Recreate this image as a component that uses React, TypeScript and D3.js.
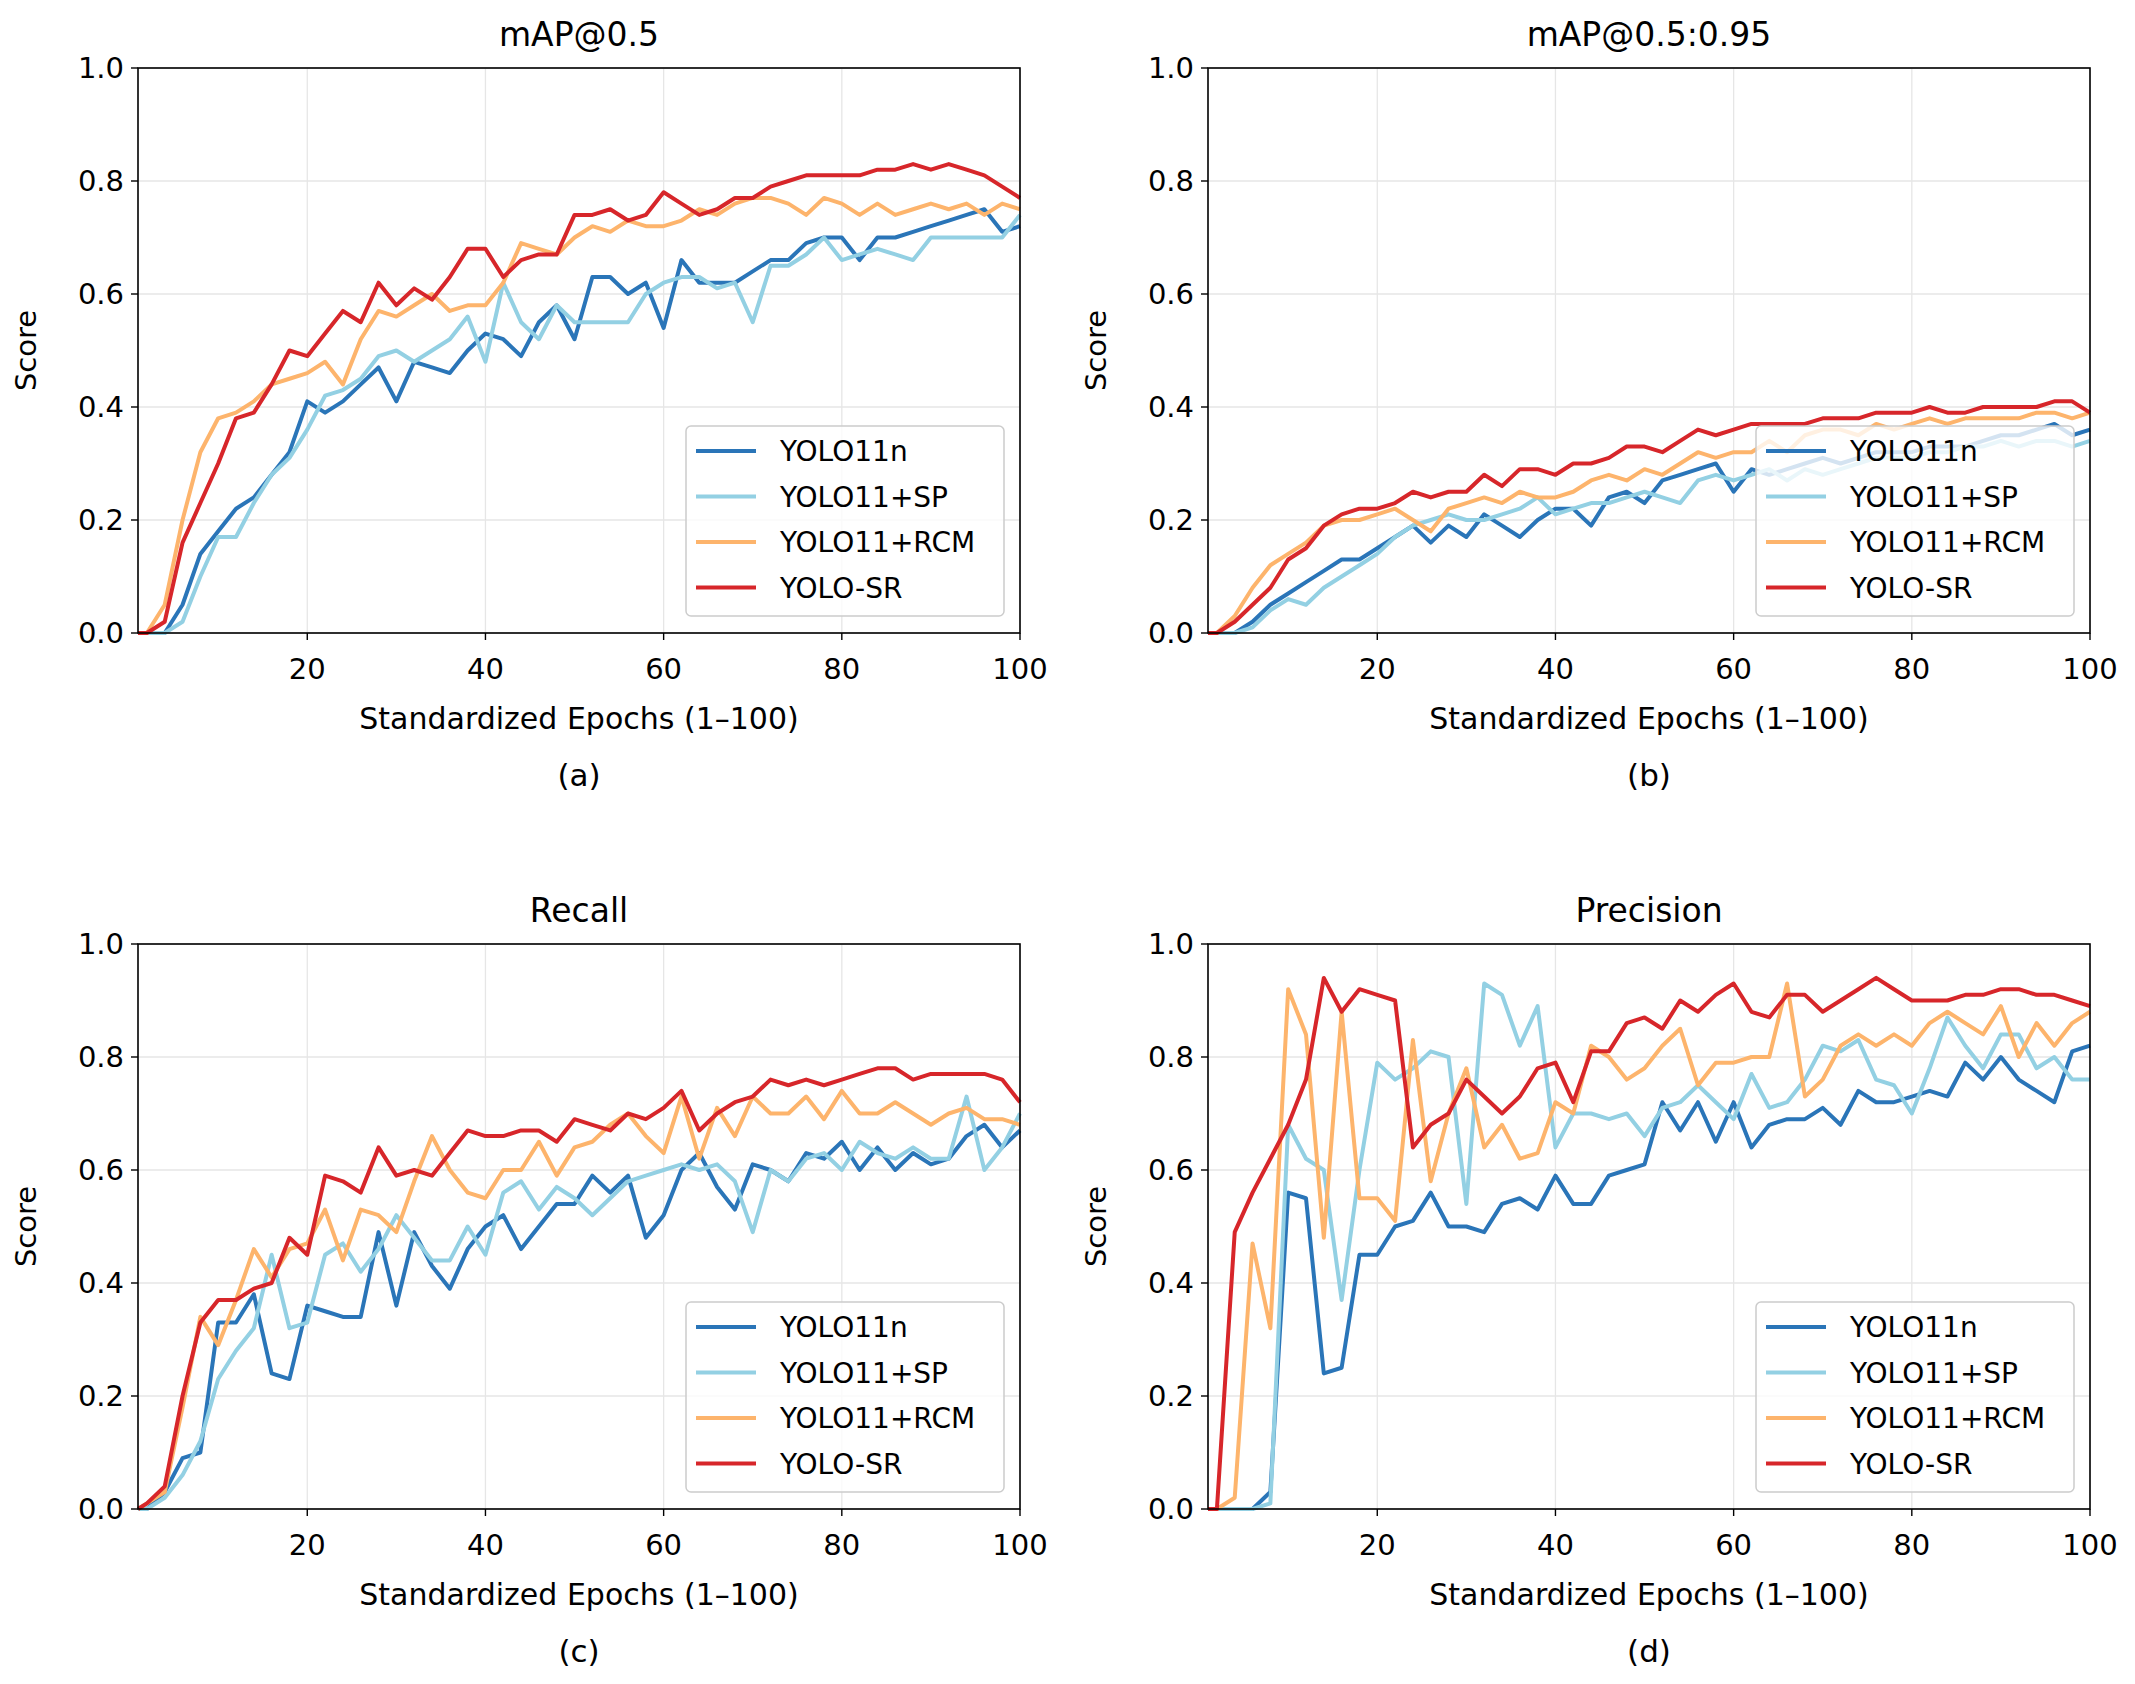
import React from "react";
import * as d3 from "d3";

const epochs = [1, ...d3.range(2, 101, 2)];
const seriesNames = ["YOLO11n", "YOLO11+SP", "YOLO11+RCM", "YOLO-SR"];
const colors = ["#2a75b8", "#93d0e3", "#fdb46c", "#d7262a"];
const yTicks = [0, 0.2, 0.4, 0.6, 0.8, 1.0];
const xTicks = [20, 40, 60, 80, 100];

const mapA_n = [0,0,0,0.05,0.14,0.18,0.22,0.24,0.28,0.32,0.41,0.39,0.41,0.44,0.47,0.41,0.48,0.47,0.46,0.5,0.53,0.52,0.49,0.55,0.58,0.52,0.63,0.63,0.6,0.62,0.54,0.66,0.62,0.62,0.62,0.64,0.66,0.66,0.69,0.7,0.7,0.66,0.7,0.7,0.71,0.72,0.73,0.74,0.75,0.71,0.72];
const mapA_sp = [0,0,0,0.02,0.1,0.17,0.17,0.23,0.28,0.31,0.36,0.42,0.43,0.45,0.49,0.5,0.48,0.5,0.52,0.56,0.48,0.62,0.55,0.52,0.58,0.55,0.55,0.55,0.55,0.6,0.62,0.63,0.63,0.61,0.62,0.55,0.65,0.65,0.67,0.7,0.66,0.67,0.68,0.67,0.66,0.7,0.7,0.7,0.7,0.7,0.74];
const mapA_rcm = [0,0,0.05,0.2,0.32,0.38,0.39,0.41,0.44,0.45,0.46,0.48,0.44,0.52,0.57,0.56,0.58,0.6,0.57,0.58,0.58,0.62,0.69,0.68,0.67,0.7,0.72,0.71,0.73,0.72,0.72,0.73,0.75,0.74,0.76,0.77,0.77,0.76,0.74,0.77,0.76,0.74,0.76,0.74,0.75,0.76,0.75,0.76,0.74,0.76,0.75];
const mapA_sr = [0,0,0.02,0.16,0.23,0.3,0.38,0.39,0.44,0.5,0.49,0.53,0.57,0.55,0.62,0.58,0.61,0.59,0.63,0.68,0.68,0.63,0.66,0.67,0.67,0.74,0.74,0.75,0.73,0.74,0.78,0.76,0.74,0.75,0.77,0.77,0.79,0.8,0.81,0.81,0.81,0.81,0.82,0.82,0.83,0.82,0.83,0.82,0.81,0.79,0.77];

const mapB_n = [0,0,0,0.02,0.05,0.07,0.09,0.11,0.13,0.13,0.15,0.17,0.19,0.16,0.19,0.17,0.21,0.19,0.17,0.2,0.22,0.22,0.19,0.24,0.25,0.23,0.27,0.28,0.29,0.3,0.25,0.29,0.28,0.29,0.3,0.31,0.3,0.31,0.32,0.32,0.32,0.33,0.33,0.33,0.34,0.35,0.35,0.36,0.37,0.35,0.36];
const mapB_sp = [0,0,0,0.01,0.04,0.06,0.05,0.08,0.1,0.12,0.14,0.17,0.19,0.2,0.21,0.2,0.2,0.21,0.22,0.24,0.21,0.22,0.23,0.23,0.24,0.25,0.24,0.23,0.27,0.28,0.27,0.28,0.29,0.27,0.29,0.28,0.29,0.3,0.31,0.31,0.31,0.32,0.32,0.33,0.33,0.34,0.33,0.34,0.34,0.33,0.34];
const mapB_rcm = [0,0,0.03,0.08,0.12,0.14,0.16,0.19,0.2,0.2,0.21,0.22,0.2,0.18,0.22,0.23,0.24,0.23,0.25,0.24,0.24,0.25,0.27,0.28,0.27,0.29,0.28,0.3,0.32,0.31,0.32,0.32,0.34,0.32,0.35,0.36,0.36,0.35,0.37,0.36,0.37,0.38,0.37,0.38,0.38,0.38,0.38,0.39,0.39,0.38,0.39];
const mapB_sr = [0,0,0.02,0.05,0.08,0.13,0.15,0.19,0.21,0.22,0.22,0.23,0.25,0.24,0.25,0.25,0.28,0.26,0.29,0.29,0.28,0.3,0.3,0.31,0.33,0.33,0.32,0.34,0.36,0.35,0.36,0.37,0.37,0.37,0.37,0.38,0.38,0.38,0.39,0.39,0.39,0.4,0.39,0.39,0.4,0.4,0.4,0.4,0.41,0.41,0.39];

const rec_n = [0,0,0.03,0.09,0.1,0.33,0.33,0.38,0.24,0.23,0.36,0.35,0.34,0.34,0.49,0.36,0.49,0.43,0.39,0.46,0.5,0.52,0.46,0.5,0.54,0.54,0.59,0.56,0.59,0.48,0.52,0.6,0.63,0.57,0.53,0.61,0.6,0.58,0.63,0.62,0.65,0.6,0.64,0.6,0.63,0.61,0.62,0.66,0.68,0.64,0.67];
const rec_sp = [0,0,0.02,0.06,0.12,0.23,0.28,0.32,0.45,0.32,0.33,0.45,0.47,0.42,0.46,0.52,0.48,0.44,0.44,0.5,0.45,0.56,0.58,0.53,0.57,0.55,0.52,0.55,0.58,0.59,0.6,0.61,0.6,0.61,0.58,0.49,0.6,0.58,0.62,0.63,0.6,0.65,0.63,0.62,0.64,0.62,0.62,0.73,0.6,0.64,0.7];
const rec_rcm = [0,0.01,0.03,0.18,0.34,0.29,0.37,0.46,0.41,0.46,0.47,0.53,0.44,0.53,0.52,0.49,0.58,0.66,0.6,0.56,0.55,0.6,0.6,0.65,0.59,0.64,0.65,0.68,0.7,0.66,0.63,0.73,0.62,0.71,0.66,0.73,0.7,0.7,0.73,0.69,0.74,0.7,0.7,0.72,0.7,0.68,0.7,0.71,0.69,0.69,0.68];
const rec_sr = [0,0.01,0.04,0.2,0.33,0.37,0.37,0.39,0.4,0.48,0.45,0.59,0.58,0.56,0.64,0.59,0.6,0.59,0.63,0.67,0.66,0.66,0.67,0.67,0.65,0.69,0.68,0.67,0.7,0.69,0.71,0.74,0.67,0.7,0.72,0.73,0.76,0.75,0.76,0.75,0.76,0.77,0.78,0.78,0.76,0.77,0.77,0.77,0.77,0.76,0.72];

const prec_n = [0,0,0,0,0.03,0.56,0.55,0.24,0.25,0.45,0.45,0.5,0.51,0.56,0.5,0.5,0.49,0.54,0.55,0.53,0.59,0.54,0.54,0.59,0.6,0.61,0.72,0.67,0.72,0.65,0.72,0.64,0.68,0.69,0.69,0.71,0.68,0.74,0.72,0.72,0.73,0.74,0.73,0.79,0.76,0.8,0.76,0.74,0.72,0.81,0.82];
const prec_sp = [0,0,0,0,0.01,0.68,0.62,0.6,0.37,0.6,0.79,0.76,0.78,0.81,0.8,0.54,0.93,0.91,0.82,0.89,0.64,0.7,0.7,0.69,0.7,0.66,0.71,0.72,0.75,0.72,0.69,0.77,0.71,0.72,0.76,0.82,0.81,0.83,0.76,0.75,0.7,0.78,0.87,0.82,0.78,0.84,0.84,0.78,0.8,0.76,0.76];
const prec_rcm = [0,0,0.02,0.47,0.32,0.92,0.84,0.48,0.88,0.55,0.55,0.51,0.83,0.58,0.7,0.78,0.64,0.68,0.62,0.63,0.72,0.7,0.82,0.8,0.76,0.78,0.82,0.85,0.75,0.79,0.79,0.8,0.8,0.93,0.73,0.76,0.82,0.84,0.82,0.84,0.82,0.86,0.88,0.86,0.84,0.89,0.8,0.86,0.82,0.86,0.88];
const prec_sr = [0,0,0.49,0.56,0.62,0.68,0.76,0.94,0.88,0.92,0.91,0.9,0.64,0.68,0.7,0.76,0.73,0.7,0.73,0.78,0.79,0.72,0.81,0.81,0.86,0.87,0.85,0.9,0.88,0.91,0.93,0.88,0.87,0.91,0.91,0.88,0.9,0.92,0.94,0.92,0.9,0.9,0.9,0.91,0.91,0.92,0.92,0.91,0.91,0.9,0.89];

const panels = [
  { title: "mAP@0.5", tag: "(a)", data: [mapA_n, mapA_sp, mapA_rcm, mapA_sr], left: 138, top: 68 },
  { title: "mAP@0.5:0.95", tag: "(b)", data: [mapB_n, mapB_sp, mapB_rcm, mapB_sr], left: 1208, top: 68 },
  { title: "Recall", tag: "(c)", data: [rec_n, rec_sp, rec_rcm, rec_sr], left: 138, top: 944 },
  { title: "Precision", tag: "(d)", data: [prec_n, prec_sp, prec_rcm, prec_sr], left: 1208, top: 944 },
];

const W = 882, H = 565;
const FONT = "DejaVu Sans";

function Panel({ p }: { p: typeof panels[0] }) {
  const x = d3.scaleLinear().domain([1, 100]).range([0, W]);
  const y = d3.scaleLinear().domain([0, 1]).range([H, 0]);
  const line = d3.line<[number, number]>().x(d => x(d[0])).y(d => y(d[1]));
  const lx = 548, ly = 358, lw = 318, lh = 190;
  return (
    <g transform={`translate(${p.left},${p.top})`} fontFamily={FONT}>
      <defs>
        <clipPath id={"c" + p.tag}><rect x={0} y={0} width={W} height={H} /></clipPath>
      </defs>
      {xTicks.map(t => <line key={"gx" + t} x1={x(t)} x2={x(t)} y1={0} y2={H} stroke="#e6e6e6" strokeWidth={1.3} />)}
      {yTicks.map(t => <line key={"gy" + t} x1={0} x2={W} y1={y(t)} y2={y(t)} stroke="#e6e6e6" strokeWidth={1.3} />)}
      <g clipPath={`url(#c${p.tag})`}>
        {p.data.map((vals, i) => (
          <path key={i} d={line(vals.map((v, j) => [epochs[j], v] as [number, number])) || ""} fill="none" stroke={colors[i]} strokeWidth={4} strokeLinejoin="round" />
        ))}
      </g>
      <rect x={0} y={0} width={W} height={H} fill="none" stroke="#000" strokeWidth={1.6} />
      {xTicks.map(t => (
        <g key={"tx" + t}>
          <line x1={x(t)} x2={x(t)} y1={H} y2={H + 7} stroke="#000" strokeWidth={1.4} />
          <text x={x(t)} y={H + 46} textAnchor="middle" fontSize={29}>{t}</text>
        </g>
      ))}
      {yTicks.map(t => (
        <g key={"ty" + t}>
          <line x1={-7} x2={0} y1={y(t)} y2={y(t)} stroke="#000" strokeWidth={1.4} />
          <text x={-14} y={y(t) + 10} textAnchor="end" fontSize={29}>{t.toFixed(1)}</text>
        </g>
      ))}
      <text x={W / 2} y={-22} textAnchor="middle" fontSize={33}>{p.title}</text>
      <text x={W / 2} y={H + 96} textAnchor="middle" fontSize={30}>Standardized Epochs (1–100)</text>
      <text x={W / 2} y={H + 153} textAnchor="middle" fontSize={31}>{p.tag}</text>
      <text transform={`translate(-102,${H / 2}) rotate(-90)`} textAnchor="middle" fontSize={29}>Score</text>
      <rect x={lx} y={ly} width={lw} height={lh} rx={5} fill="#fff" fillOpacity={0.8} stroke="#cccccc" strokeWidth={1.5} />
      {seriesNames.map((n, i) => (
        <g key={n}>
          <line x1={lx + 10} x2={lx + 70} y1={ly + 25 + i * 45.5} y2={ly + 25 + i * 45.5} stroke={colors[i]} strokeWidth={4} />
          <text x={lx + 94} y={ly + 35 + i * 45.5} fontSize={28}>{n}</text>
        </g>
      ))}
    </g>
  );
}

export default function App() {
  return (
    <svg width={2135} height={1684} style={{ display: "block", marginTop: -8, marginLeft: -8, background: "#fff" }}>
      <rect width={2135} height={1684} fill="#fff" />
      {panels.map(p => <Panel key={p.tag} p={p} />)}
    </svg>
  );
}
